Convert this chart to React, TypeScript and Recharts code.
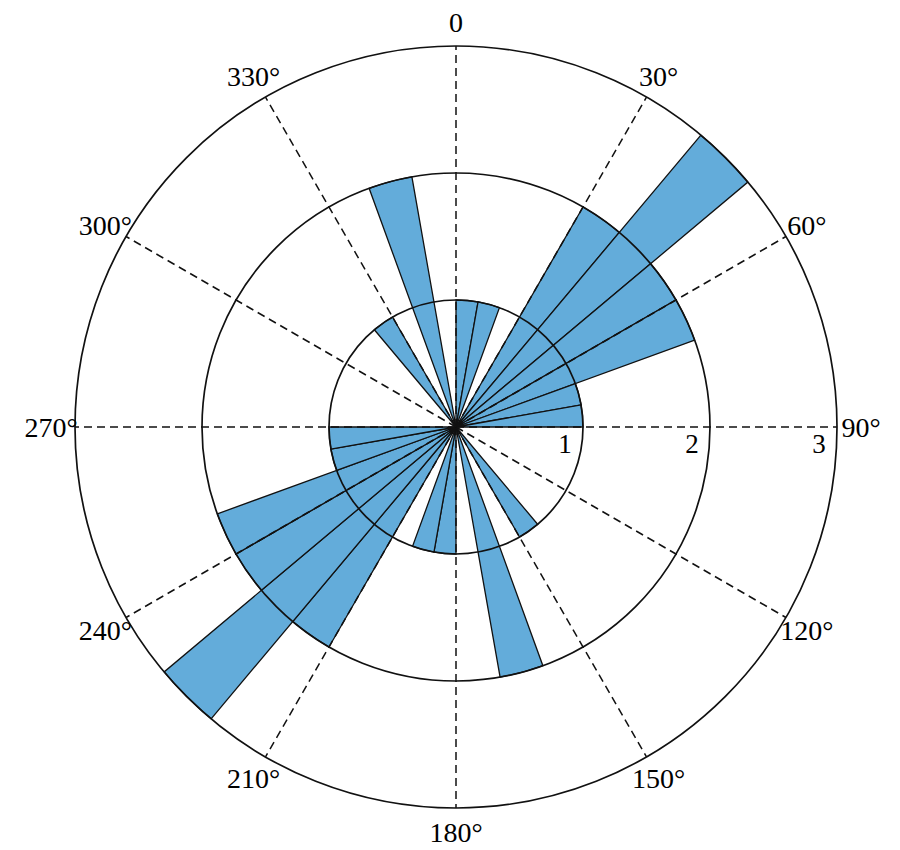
import React from 'react';
import {
  RadialBarChart, RadialBar, RadarChart, Radar, PolarGrid, PolarAngleAxis, PolarRadiusAxis,
} from 'recharts';

// 10° bins, compass bearing (0 = north, clockwise)
const binStarts = [
  0, 10, 20, 30, 40, 50, 60, 70, 80, 90, 100, 110,
  120, 130, 140, 150, 160, 170, 180, 190, 200, 210, 220, 230,
  240, 250, 260, 270, 280, 290, 300, 310, 320, 330, 340, 350,
];
const counts = [
  1, 1, 0, 2, 3, 2, 2, 1, 1, 0, 0, 0,
  0, 0, 1, 0, 2, 0, 1, 1, 0, 2, 3, 2,
  2, 1, 1, 0, 0, 0, 0, 0, 1, 0, 2, 0,
];
const angleLabels = ['0', '30°', '60°', '90°', '120°', '150°', '180°', '210°', '240°', '270°', '300°', '330°'];
const radiusTicks = [0, 1, 2, 3];

const barData = binStarts.map((b, i) => ({ bin: String(b), value: counts[i] }));
const gridData = angleLabels.map((label) => ({ label, zero: 0 }));

// the wrapper cancels the body margin so the labels near the edge aren't clipped
const W = 900;
const H = 850;
const CX = 456;
const CY = 427;
const R = 381;
const FONT = '"Liberation Serif", "DejaVu Serif", serif';

const AngleTick = (props: any) => {
  const { x, y, payload } = props;
  return (
    <text x={x} y={y} dy={10} textAnchor="middle" fontFamily={FONT} fontSize={28} fill="#000">
      {payload.value}
    </text>
  );
};

const RadiusTick = (props: any) => {
  const { x, y, payload } = props;
  if (payload.value === 0) return null;
  return (
    <text x={x} y={y} dx={-18} dy={26} textAnchor="middle" fontFamily={FONT} fontSize={27} fill="#000">
      {payload.value}
    </text>
  );
};

const App: React.FC = () => {
  return (
    <div style={{ position: 'relative', width: W, height: H, margin: -8, background: '#fff' }}>
      {/* bars: each 10° bin as a wedge */}
      <div style={{ position: 'absolute', left: 0, top: 0 }}>
        <RadialBarChart
          width={W}
          height={H}
          data={barData}
          cx={CX}
          cy={CY}
          innerRadius={0}
          outerRadius={R}
          startAngle={80}
          endAngle={-280}
          layout="centric"
          barCategoryGap="0%"
          barGap={0}
          margin={{ top: 0, right: 0, bottom: 0, left: 0 }}
        >
          <PolarAngleAxis dataKey="bin" type="category" tick={false} tickLine={false} axisLine={false} />
          <PolarRadiusAxis angle={0} type="number" domain={[0, 3]} ticks={radiusTicks} tick={false} axisLine={false} tickLine={false} />
          <RadialBar
            dataKey="value"
            fill="#63acda"
            stroke="#111"
            strokeWidth={1.3}
            isAnimationActive={false}
          />
        </RadialBarChart>
      </div>
      {/* grid, circles and labels on top */}
      <div style={{ position: 'absolute', left: 0, top: 0 }}>
        <RadarChart
          width={W}
          height={H}
          data={gridData}
          cx={CX}
          cy={CY}
          innerRadius={0}
          outerRadius={R}
          startAngle={90}
          endAngle={-270}
          margin={{ top: 0, right: 0, bottom: 0, left: 0 }}
        >
          <PolarGrid
            gridType="circle"
            polarRadius={[]}
            stroke="#111"
            strokeWidth={1.5}
            strokeDasharray="8 5"
          />
          <PolarGrid
            gridType="circle"
            radialLines={false}
            stroke="#111"
            strokeWidth={1.7}
          />
          <PolarAngleAxis
            dataKey="label"
            tick={<AngleTick />}
            tickLine={false}
            tickSize={24}
            axisLine={false}
          />
          <PolarRadiusAxis
            angle={0}
            type="number"
            domain={[0, 3]}
            ticks={radiusTicks}
            axisLine={false}
            tickLine={false}
            tick={<RadiusTick />}
          />
          <Radar dataKey="zero" stroke="none" fill="none" dot={false} isAnimationActive={false} />
        </RadarChart>
      </div>
    </div>
  );
};

export default App;
